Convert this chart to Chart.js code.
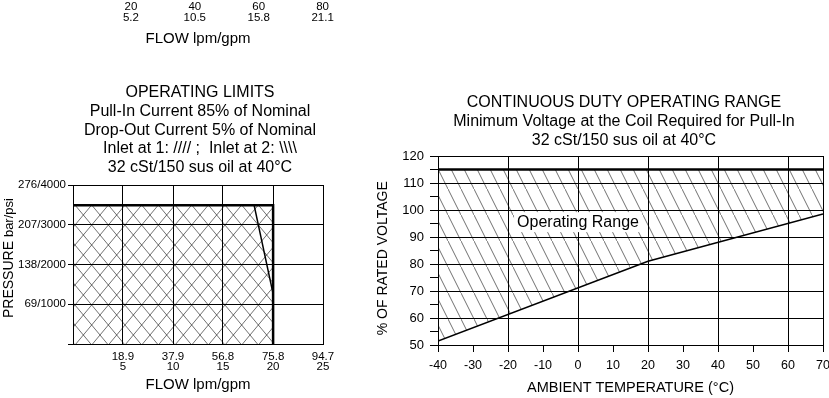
<!DOCTYPE html>
<html>
<head>
<meta charset="utf-8">
<script src="https://cdn.jsdelivr.net/npm/chart.js@4.4.1/dist/chart.umd.min.js"></script>
<style>
  html, body { margin: 0; padding: 0; background: #fff; }
  body { position: relative; width: 829px; height: 398px; overflow: hidden; }
  canvas { position: absolute; }
  #topAxis { left: 0; top: -60px; }
  #limitsChart { left: 0; top: 75px; }
  #dutyChart { left: 370px; top: 85px; }
</style>
</head>
<body>
<canvas id="topAxis" width="400" height="110"></canvas>
<canvas id="limitsChart" width="400" height="323"></canvas>
<canvas id="dutyChart" width="508" height="313"></canvas>
<script>
// Data
// tail of the flow axis from the chart above, only its labels are in view
const topFlowLpm = [20, 40, 60, 80];
const topFlowGpm = ['5.2', '10.5', '15.8', '21.1'];

// Operating limits
const flowLpm = [0, 18.9, 37.9, 56.8, 75.8, 94.7];
const flowGpm = ['', '5', '10', '15', '20', '25'];
const pressureBar = [0, 69, 138, 207, 276];
const pressurePsi = ['', '1000', '2000', '3000', '4000'];
const limitFlow = [0, 75.8, 75.8];
const limitPressure = [241, 241, 0];
const dropOutFlow = [68.6, 75.8];
const dropOutPressure = [241, 87];

// Continuous duty operating range
const tempC = [-40, 20, 70];
const maxVoltage = [115, 115, 115];
const minVoltage = [51.5, 81, 98.5];

const limitsTitle = [
	'OPERATING LIMITS',
	'Pull-In Current 85% of Nominal',
	'Drop-Out Current 5% of Nominal',
	'Inlet at 1: //// ;  Inlet at 2: \\\\\\\\',
	'32 cSt/150 sus oil at 40°C'
];
const dutyTitle = [
	'CONTINUOUS DUTY OPERATING RANGE',
	'Minimum Voltage at the Coil Required for Pull-In',
	'32 cSt/150 sus oil at 40°C'
];

// Configuration
const FONT = '"Liberation Sans", Arial, Helvetica, sans-serif';
Chart.defaults.font.family = FONT;
Chart.defaults.color = '#000';
Chart.defaults.animation = false;
Chart.defaults.responsive = false;
Chart.defaults.plugins.legend.display = false;
Chart.defaults.plugins.tooltip.enabled = false;

const TITLE_FONT = { size: 16, weight: 'normal', lineHeight: 1.1625 };

const pts = (xs, ys) => xs.map((x, i) => ({ x: x, y: ys[i] }));
const onTick = (fn) => (c) => (c.tick && fn(c.tick.value)) ? '#000' : 'rgba(0,0,0,0)';

// Empty axis on the right, only there to push the plot in so the
// (full width) title ends up centred where the original has it
const spacer = (w) => ({
	position: 'right',
	grid: { display: false },
	border: { display: false },
	ticks: { display: false },
	afterFit: s => { s.width = w; }
});

// Hatch patterns (tile drawn on a small offscreen canvas)
function makePattern(w, h, segs) {
	const c = document.createElement('canvas');
	c.width = w;
	c.height = h;
	const g = c.getContext('2d');
	g.strokeStyle = 'rgba(0,0,0,0.75)';
	g.lineWidth = 0.75;
	segs.forEach(([x1, y1, x2, y2]) => {
		// run a bit past the tile so the joins don't show
		const dx = (x2 - x1) * 0.1, dy = (y2 - y1) * 0.1;
		g.beginPath();
		g.moveTo(x1 - dx, y1 - dy);
		g.lineTo(x2 + dx, y2 + dy);
		g.stroke();
	});
	return g.createPattern(c, 'repeat');
}

const crossSegs = [];
for (let k = -1; k <= 3; k++) {
	crossSegs.push([k * 50 / 3, 0, (k + 1) * 50 / 3, 20]);
	crossSegs.push([(k + 1) * 50 / 3, 0, k * 50 / 3, 20]);
}
const crossHatch = makePattern(50, 20, crossSegs);
const backHatch = makePattern(13, 26, [[0, 0, 13, 26]]);

// Plugins
const pressureTitle = {
	id: 'pressureTitle',
	afterDraw(chart) {
		const { ctx, chartArea } = chart;
		ctx.save();
		ctx.translate(13, chartArea.bottom - 26);
		ctx.rotate(-Math.PI / 2);
		ctx.fillStyle = '#000';
		ctx.textBaseline = 'alphabetic';
		ctx.font = '14px ' + FONT;
		ctx.fillText('PRESSURE', 0, 0);
		const w = ctx.measureText('PRESSURE ').width;
		ctx.font = '13px ' + FONT;
		ctx.fillText('bar/psi', w, 0);
		ctx.restore();
	}
};

const RANGE_LABEL = 'Operating Range';
const rangeLabel = {
	id: 'rangeLabel',
	afterDatasetsDraw(chart) {
		const { ctx, scales } = chart;
		const px = scales.x.getPixelForValue(0);
		const py = scales.y.getPixelForValue(95.5);
		ctx.save();
		ctx.font = '16px ' + FONT;
		const w = ctx.measureText(RANGE_LABEL).width;
		ctx.fillStyle = '#fff';
		ctx.fillRect(px - w / 2 - 3, py - 10, w + 6, 20);
		ctx.fillStyle = '#000';
		ctx.textAlign = 'center';
		ctx.textBaseline = 'middle';
		ctx.fillText(RANGE_LABEL, px, py);
		ctx.restore();
	}
};

// Top strip: just the axis labels of the previous chart
new Chart(document.getElementById('topAxis'), {
	type: 'line',
	data: { datasets: [] },
	options: {
		layout: { padding: { left: 67, right: 71 } },
		scales: {
			x: {
				type: 'linear', min: 0, max: 82,
				afterBuildTicks: s => { s.ticks = topFlowLpm.map(v => ({ value: v })); },
				afterFit: s => { s.height = 56; },
				grid: { display: false },
				border: { display: false },
				ticks: {
					padding: 0, maxRotation: 0, autoSkip: false,
					font: { size: 11.5, lineHeight: 0.92 },
					callback: (v, i) => [String(topFlowLpm[i]), topFlowGpm[i]]
				},
				title: { display: true, text: 'FLOW lpm/gpm', font: { size: 15 }, padding: { top: 0, bottom: 2 } }
			},
			y: { display: false }
		}
	}
});

// Operating limits
new Chart(document.getElementById('limitsChart'), {
	type: 'line',
	data: {
		datasets: [
			{
				data: pts(limitFlow, limitPressure),
				borderColor: '#000', borderWidth: 2.5,
				backgroundColor: crossHatch, fill: 'origin',
				pointRadius: 0
			},
			{
				data: pts(dropOutFlow, dropOutPressure),
				borderColor: '#000', borderWidth: 1.5,
				fill: false, pointRadius: 0
			}
		]
	},
	options: {
		layout: { padding: 0 },
		plugins: {
			title: {
				display: true, text: limitsTitle, color: '#000',
				font: TITLE_FONT,
				padding: { top: 8.7, bottom: 8.3 }
			}
		},
		scales: {
			x: {
				type: 'linear', min: 0, max: 94.7,
				afterBuildTicks: s => { s.ticks = flowLpm.map(v => ({ value: v })); },
				afterFit: s => { s.height = 54; },
				grid: { color: '#000', drawTicks: false },
				border: { color: '#000' },
				ticks: {
					padding: 8, maxRotation: 0, autoSkip: false,
					font: { size: 11.5, lineHeight: 0.86 },
					callback: (v, i) => i === 0 ? '' : [String(flowLpm[i]), flowGpm[i]]
				},
				title: { display: true, text: 'FLOW lpm/gpm', font: { size: 15 }, padding: { top: 0, bottom: 4 } }
			},
			y: {
				min: 0, max: 276,
				afterBuildTicks: s => { s.ticks = pressureBar.map(v => ({ value: v })); },
				afterFit: s => { s.width = 73; },
				grid: { color: '#000', tickLength: 5 },
				border: { color: '#000' },
				ticks: {
					padding: 2, autoSkip: false,
					font: { size: 11.5 },
					callback: (v, i) => i === 0 ? '' : pressureBar[i] + '/' + pressurePsi[i]
				}
			},
			pad: spacer(77)
		}
	},
	plugins: [pressureTitle]
});

// Continuous duty operating range
new Chart(document.getElementById('dutyChart'), {
	type: 'line',
	data: {
		datasets: [
			{
				data: pts(tempC, maxVoltage),
				borderColor: '#000', borderWidth: 2.5,
				backgroundColor: backHatch, fill: '+1',
				pointRadius: 0
			},
			{
				data: pts(tempC, minVoltage),
				borderColor: '#000', borderWidth: 1.5,
				fill: false, pointRadius: 0
			}
		]
	},
	options: {
		layout: { padding: 0 },
		plugins: {
			title: {
				display: true, text: dutyTitle, color: '#000',
				font: TITLE_FONT,
				padding: { top: 8.7, bottom: 6.5 }
			}
		},
		scales: {
			x: {
				type: 'linear', min: -40, max: 70,
				afterFit: s => { s.height = 53; },
				grid: { color: onTick(v => v % 20 === 0 || v === 70), tickColor: '#000', tickLength: 7 },
				border: { color: '#000' },
				ticks: { stepSize: 10, padding: 6, maxRotation: 0, autoSkip: false, font: { size: 12.5 } },
				title: { display: true, text: 'AMBIENT TEMPERATURE (°C)', font: { size: 14.5 }, padding: { top: 0, bottom: 1 } }
			},
			y: {
				min: 50, max: 120,
				afterFit: s => { s.width = 68; },
				grid: { color: onTick(v => v % 10 === 0), tickColor: '#000', tickLength: 8 },
				border: { color: '#000' },
				ticks: {
					stepSize: 5, padding: 6, autoSkip: false,
					font: { size: 13 },
					callback: v => v % 10 === 0 ? v : ''
				},
				// trailing spaces nudge the title down to where the original sits
				title: { display: true, text: '% OF RATED VOLTAGE    ', font: { size: 14 }, padding: { top: 4.6, bottom: 0 } }
			},
			pad: spacer(55)
		}
	},
	plugins: [rangeLabel]
});
</script>
</body>
</html>
